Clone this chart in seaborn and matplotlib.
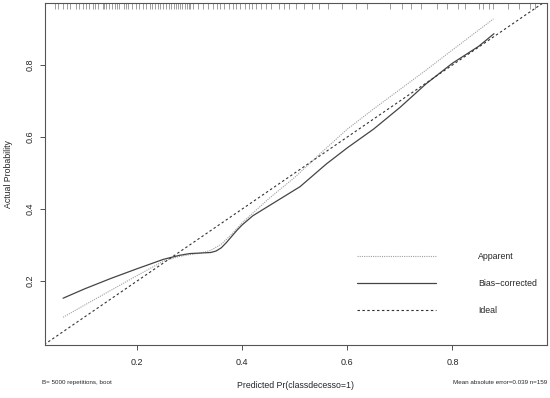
import numpy as np
import pandas as pd
import matplotlib
matplotlib.use("Agg")
import matplotlib.pyplot as plt
import seaborn as sns

# curve values
app_x = [0.059, 0.10, 0.15, 0.20, 0.25, 0.28, 0.30, 0.32, 0.34, 0.36, 0.38, 0.40,
         0.45, 0.50, 0.55, 0.60, 0.65, 0.70, 0.75, 0.80, 0.878]
app_y = [0.099, 0.133, 0.174, 0.215, 0.255, 0.268, 0.273, 0.277, 0.285, 0.302, 0.330, 0.362,
         0.428, 0.488, 0.556, 0.622, 0.678, 0.732, 0.786, 0.842, 0.928]

bc_x = [0.059, 0.10, 0.15, 0.20, 0.25, 0.28, 0.30, 0.32, 0.34, 0.35, 0.36, 0.37, 0.38,
        0.39, 0.40, 0.42, 0.45, 0.51, 0.56, 0.60, 0.65, 0.70, 0.75, 0.80, 0.85, 0.879]
bc_y = [0.152, 0.178, 0.207, 0.234, 0.260, 0.271, 0.276, 0.2775, 0.279, 0.283, 0.292, 0.307,
        0.324, 0.341, 0.356, 0.381, 0.408, 0.462, 0.525, 0.570, 0.622, 0.682, 0.748, 0.805,
        0.852, 0.887]

ideal_x = [0.0, 1.0]
ideal_y = [0.0, 1.0]

# predicted values (rug on top)
rug_x = [0.043, 0.049, 0.059, 0.066, 0.072, 0.083, 0.089, 0.097, 0.103, 0.109, 0.115,
         0.120, 0.126, 0.134, 0.137, 0.140, 0.146, 0.152, 0.157, 0.162, 0.166, 0.174,
         0.179, 0.183, 0.191, 0.197, 0.204, 0.211, 0.217, 0.224, 0.228, 0.234, 0.240,
         0.244, 0.249, 0.254, 0.260, 0.264, 0.270, 0.274, 0.278, 0.281, 0.286, 0.291,
         0.294, 0.298, 0.301, 0.306, 0.315, 0.325, 0.335, 0.345, 0.352, 0.358, 0.365,
         0.375, 0.382, 0.389, 0.395, 0.406, 0.412, 0.418, 0.426, 0.435, 0.446, 0.455,
         0.469, 0.480, 0.489, 0.503, 0.517, 0.532, 0.546, 0.563, 0.590, 0.617, 0.637,
         0.681, 0.704, 0.721, 0.741, 0.771, 0.790, 0.811, 0.824, 0.851, 0.859, 0.869,
         0.878, 0.906, 0.926, 0.948, 0.957]

x_ticks = [0.2, 0.4, 0.6, 0.8]
y_ticks = [0.2, 0.4, 0.6, 0.8]

sns.set_style("white")
plt.rcParams['font.family'] = ['Liberation Sans', 'DejaVu Sans']

fig = plt.figure(figsize=(5.5, 3.98), dpi=100)
ax = fig.add_axes([0.0813, 0.1332, 0.9133, 0.859])

sns.lineplot(x=app_x, y=app_y, ax=ax, sort=False, estimator=None, color="#a0a0a0",
             linewidth=0.8, linestyle=(0, (1, 1)), label="Apparent")
sns.lineplot(x=bc_x, y=bc_y, ax=ax, sort=False, estimator=None, color="#444444",
             linewidth=0.9, label="Bias\u2212corrected")
sns.lineplot(x=ideal_x, y=ideal_y, ax=ax, sort=False, estimator=None, color="#333333",
             linewidth=0.8, linestyle=(0, (2.2, 2.2)), label="Ideal")

ax.vlines(rug_x, 0.982, 1.0, transform=ax.get_xaxis_transform(), color="#777777",
          linewidth=0.5)

ax.set_xlim(0.024, 0.98)
ax.set_ylim(0.022, 0.972)
ax.set_xticks(x_ticks)
ax.set_yticks(y_ticks)
ax.set_xticklabels([f"{t:.1f}" for t in x_ticks], fontsize=6.5)
ax.set_yticklabels([f"{t:.1f}" for t in y_ticks], fontsize=6.5, rotation=90, va="center")
ax.tick_params(axis="both", direction="out", length=3.5, width=0.6, color="#333333",
               bottom=True, left=True)
ax.tick_params(axis="x", pad=6)
ax.tick_params(axis="y", pad=4)
for s in ax.spines.values():
    s.set_color("#555555")
    s.set_linewidth(0.8)

ax.set_xlabel("Predicted Pr(classdecesso=1)", fontsize=6.3, labelpad=10)
ax.set_ylabel("Actual Probability", fontsize=6.3, labelpad=9)

leg = ax.legend(loc="upper left", bbox_to_anchor=(0.622, 0.273), frameon=False,
                fontsize=6.3, handlelength=9.0, handletextpad=4.8, labelspacing=2.1,
                borderpad=0, borderaxespad=0)

fig.text(0.077, 0.040, "B= 5000 repetitions, boot", fontsize=4.5, ha="left", va="center")
fig.text(0.994, 0.040, "Mean absolute error=0.039 n=159", fontsize=4.5, ha="right",
         va="center")

fig.savefig("out.png", dpi=100)
